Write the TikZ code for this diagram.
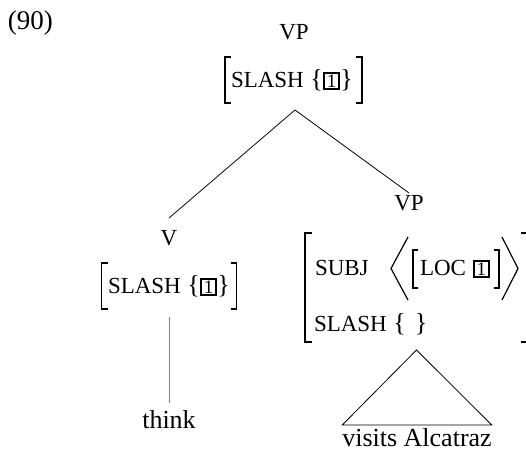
\documentclass[tikz,border=0pt]{standalone}
\usepackage{fontspec}
\setmainfont{Liberation Serif}
\newcommand\smc[1]{{\fontsize{23pt}{26pt}\selectfont #1}}
\newcommand\bxone{{\setlength\fboxsep{0.8pt}\setlength\fboxrule{2pt}\fbox{\fontsize{19pt}{19pt}\selectfont\kern1.2pt 1\kern1.2pt}}}
\newcommand\avmbrackets[2]{%
  \draw[brk] ([xshift=#2]#1.north west) -- (#1.north west) -- (#1.south west) -- ([xshift=#2]#1.south west);
  \draw[brk] ([xshift=-#2]#1.north east) -- (#1.north east) -- (#1.south east) -- ([xshift=-#2]#1.south east);}
\begin{document}
\begin{tikzpicture}[x=1pt,y=-1pt,
  every node/.style={inner sep=0pt,outer sep=0pt,font=\fontsize{26pt}{30pt}\selectfont},
  avmbox/.style 2 args={minimum width=#1,minimum height=#2},
  brk/.style={line width=1.2pt},
  edge/.style={line width=0.8pt}]
\useasboundingbox (0,0) rectangle (526,452);
\node[anchor=base west] (ex) at (8,30) {\fontsize{27pt}{30pt}\selectfont(90)};
% top VP
\node[anchor=base] (vp1) at (294,40) {\smc{VP}};
\node[avmbox={137}{46}] (avm1) at (293.5,80) {};
\avmbrackets{avm1}{6pt}
\node[anchor=base west] (s1) at (231,87) {\smc{SLASH}\ \{\bxone\}};
\coordinate (apex) at (295,110);
% left daughter
\node[anchor=north, text height=27pt] (v) at (169,218) {\smc{V}};
\node[avmbox={135}{46}] (avm2) at (169,286) {};
\avmbrackets{avm2}{6pt}
\node[anchor=base west] (s2) at (108,293) {\smc{SLASH}\ \{\bxone\}};
\node[anchor=base] (think) at (169,428) {think};
% right daughter
\node[anchor=north, text height=17pt] (vp2) at (409,193) {\smc{VP}};
\node[avmbox={223}{109}] (avm3) at (416.5,287.5) {};
\avmbrackets{avm3}{7pt}
\node[anchor=base west] (subj) at (315,275) {\smc{SUBJ}};
\draw[brk] (408,237) -- (391,268.5) -- (408,300);
\draw[brk] (502,237) -- (518,268.5) -- (502,300);
\node[avmbox={86}{38}] (avm4) at (456,269) {};
\avmbrackets{avm4}{5pt}
\node[anchor=base west] (loc) at (420,275) {\smc{LOC}\ \bxone};
\node[anchor=base west] (s3) at (314,331) {\smc{SLASH}\ \{\hspace{9pt}\}};
\node[anchor=base, text height=21pt] (va) at (417,446) {visits Alcatraz};
% connectors
\draw[edge] (apex) -- (v.north);
\draw[edge] (apex) -- (vp2.north);
\draw[edge, gray] ([yshift=-8pt]avm2.south) -- ([yshift=7pt]think.north);
\draw[edge] ([yshift=-8pt]avm3.south) -- (va.north west) -- (va.north east) -- cycle;
\end{tikzpicture}
\end{document}
